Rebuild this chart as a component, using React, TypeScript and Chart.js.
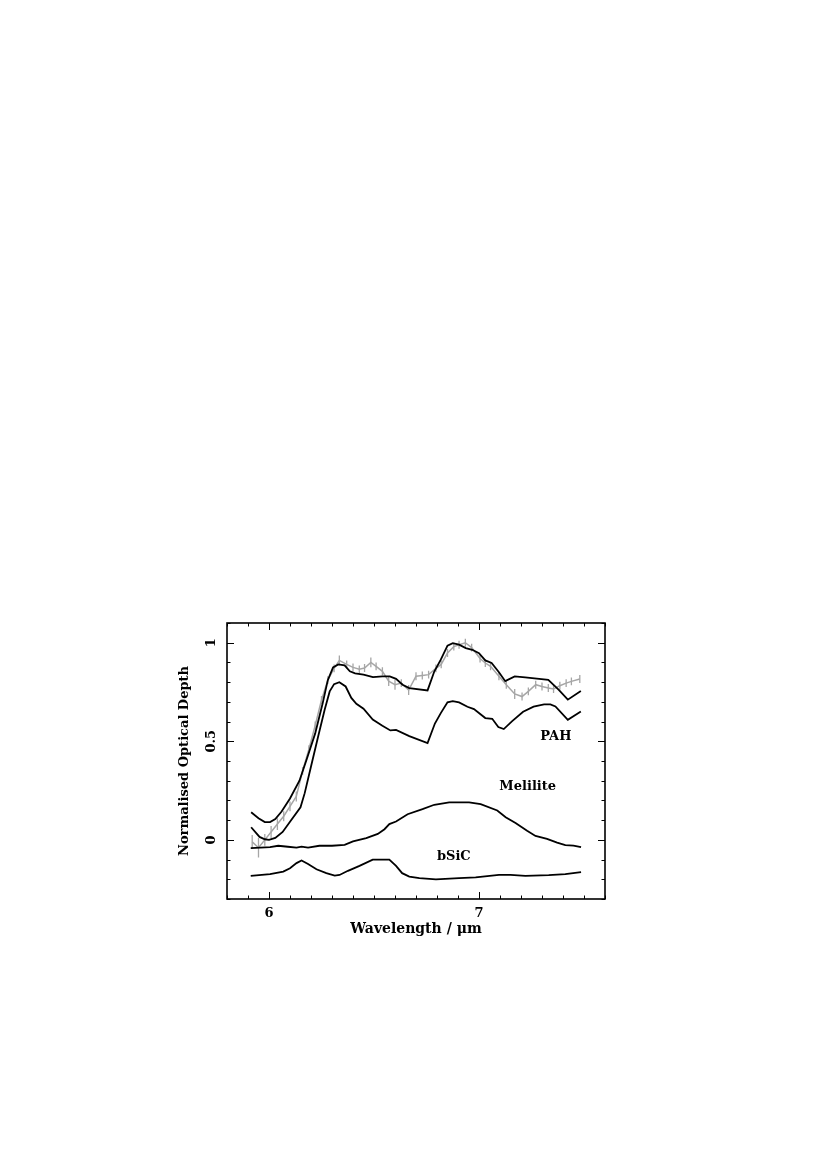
import React, { useEffect, useRef } from 'react';
import { Chart, registerables } from 'chart.js';

Chart.register(...registerables);

// Axis ranges and ticks
const X_MIN = 5.8;
const X_MAX = 7.6;
const Y_MIN = -0.3;
const Y_MAX = 1.1;
const xTickValues = [6, 7];
const yTickValues = [0, 0.5, 1];
const xMinorStep = 0.1;
const yMinorStep = 0.1;
const xMajorEvery = 10; // major every 1.0
const yMajorEvery = 5; // major every 0.5

// Observed spectrum (grey, with error bars)
const obsWavelength = [5.92, 5.95, 5.98, 6.01, 6.04, 6.07, 6.10, 6.13, 6.16, 6.19, 6.22, 6.25, 6.28, 6.31, 6.335, 6.37, 6.40, 6.43, 6.455, 6.485, 6.51, 6.54, 6.57, 6.60, 6.63, 6.665, 6.70, 6.73, 6.76, 6.795, 6.82, 6.85, 6.88, 6.905, 6.935, 6.965, 7.005, 7.03, 7.055, 7.095, 7.13, 7.17, 7.205, 7.235, 7.27, 7.30, 7.33, 7.355, 7.385, 7.415, 7.44, 7.48];
const obsDepth = [-0.01, -0.04, 0.00, 0.04, 0.08, 0.12, 0.17, 0.22, 0.35, 0.46, 0.58, 0.71, 0.81, 0.87, 0.91, 0.89, 0.875, 0.865, 0.872, 0.90, 0.88, 0.855, 0.805, 0.787, 0.795, 0.76, 0.83, 0.834, 0.838, 0.87, 0.89, 0.948, 0.98, 0.99, 1.0, 0.975, 0.92, 0.897, 0.88, 0.83, 0.787, 0.74, 0.727, 0.753, 0.787, 0.778, 0.77, 0.765, 0.782, 0.795, 0.804, 0.816];
const obsError = [0.035, 0.05, 0.03, 0.03, 0.03, 0.025, 0.025, 0.025, 0.02, 0.02, 0.02, 0.02, 0.02, 0.02, 0.025, 0.02, 0.02, 0.02, 0.02, 0.025, 0.02, 0.02, 0.025, 0.025, 0.02, 0.025, 0.02, 0.02, 0.02, 0.02, 0.02, 0.02, 0.02, 0.02, 0.02, 0.02, 0.02, 0.02, 0.02, 0.02, 0.02, 0.025, 0.02, 0.02, 0.02, 0.02, 0.02, 0.02, 0.02, 0.02, 0.02, 0.02];

// Total model fit (upper black curve)
const fitWavelength = [5.915, 5.95, 5.98, 6.005, 6.03, 6.06, 6.10, 6.145, 6.18, 6.22, 6.255, 6.28, 6.305, 6.33, 6.36, 6.385, 6.41, 6.45, 6.495, 6.54, 6.575, 6.605, 6.636, 6.668, 6.755, 6.787, 6.818, 6.85, 6.875, 6.905, 6.937, 6.968, 7.0, 7.03, 7.06, 7.095, 7.125, 7.17, 7.22, 7.33, 7.38, 7.423, 7.485];
const fitDepth = [0.14, 0.11, 0.09, 0.09, 0.105, 0.144, 0.21, 0.30, 0.41, 0.54, 0.69, 0.81, 0.875, 0.89, 0.885, 0.855, 0.845, 0.838, 0.825, 0.829, 0.829, 0.817, 0.787, 0.77, 0.758, 0.854, 0.914, 0.985, 0.998, 0.99, 0.973, 0.964, 0.947, 0.91, 0.897, 0.85, 0.805, 0.829, 0.824, 0.812, 0.761, 0.711, 0.755];

// PAH component
const pahWavelength = [5.915, 5.955, 5.98, 6.0, 6.03, 6.065, 6.10, 6.15, 6.17, 6.20, 6.234, 6.265, 6.289, 6.31, 6.335, 6.365, 6.392, 6.416, 6.45, 6.494, 6.54, 6.578, 6.605, 6.668, 6.755, 6.79, 6.818, 6.85, 6.875, 6.905, 6.945, 6.976, 7.03, 7.063, 7.092, 7.118, 7.158, 7.21, 7.26, 7.31, 7.34, 7.364, 7.423, 7.485];
const pahDepth = [0.064, 0.015, 0.003, 0.0, 0.01, 0.04, 0.092, 0.165, 0.237, 0.372, 0.524, 0.66, 0.753, 0.79, 0.80, 0.778, 0.72, 0.69, 0.665, 0.61, 0.579, 0.555, 0.558, 0.526, 0.491, 0.59, 0.643, 0.698, 0.704, 0.697, 0.675, 0.663, 0.618, 0.614, 0.572, 0.562, 0.602, 0.65, 0.676, 0.687, 0.687, 0.677, 0.609, 0.651];

// Melilite component
const melWavelength = [5.913, 6.005, 6.044, 6.09, 6.131, 6.155, 6.186, 6.24, 6.30, 6.36, 6.40, 6.463, 6.518, 6.55, 6.573, 6.605, 6.66, 6.731, 6.787, 6.858, 6.953, 7.008, 7.087, 7.127, 7.174, 7.229, 7.269, 7.324, 7.372, 7.411, 7.45, 7.486];
const melDepth = [-0.042, -0.037, -0.03, -0.035, -0.039, -0.034, -0.039, -0.03, -0.03, -0.025, -0.008, 0.009, 0.03, 0.054, 0.08, 0.093, 0.13, 0.156, 0.178, 0.19, 0.19, 0.181, 0.149, 0.115, 0.085, 0.046, 0.02, 0.005, -0.014, -0.027, -0.029, -0.037];

// bSiC component
const sicWavelength = [5.913, 6.005, 6.068, 6.10, 6.131, 6.155, 6.186, 6.226, 6.273, 6.313, 6.336, 6.376, 6.431, 6.494, 6.573, 6.605, 6.634, 6.668, 6.716, 6.795, 6.905, 6.984, 7.095, 7.15, 7.221, 7.332, 7.411, 7.486];
const sicDepth = [-0.183, -0.174, -0.161, -0.144, -0.118, -0.105, -0.122, -0.149, -0.169, -0.181, -0.178, -0.157, -0.132, -0.10, -0.10, -0.132, -0.169, -0.186, -0.194, -0.20, -0.194, -0.19, -0.178, -0.178, -0.183, -0.179, -0.174, -0.164];

// Curve labels (data coordinates)
const labelTexts = ['PAH', 'Melilite', 'bSiC'];
const labelWavelength = [7.366, 7.232, 6.88];
const labelDepth = [0.523, 0.27, -0.084];

const FONT_FAMILY = "'DejaVu Serif', 'Liberation Serif', serif";
const BLACK = '#000000';
const GREY = '#a6a6a6';

const zip = (xs: number[], ys: number[]) => xs.map((x, i) => ({ x, y: ys[i] }));

const frameTicksPlugin = {
  id: 'frameTicks',
  afterDraw(chart: any) {
    const { ctx, chartArea: a, scales } = chart;
    const xs = scales.x;
    const ys = scales.y;
    ctx.save();
    ctx.strokeStyle = BLACK;
    ctx.lineWidth = 1;
    ctx.beginPath();
    const i0 = Math.ceil(X_MIN / xMinorStep - 1e-6);
    const i1 = Math.floor(X_MAX / xMinorStep + 1e-6);
    for (let i = i0; i <= i1; i++) {
      const px = Math.round(xs.getPixelForValue(i * xMinorStep)) + 0.5;
      const len = i % xMajorEvery === 0 ? 7 : 3.5;
      ctx.moveTo(px, a.bottom);
      ctx.lineTo(px, a.bottom - len);
      ctx.moveTo(px, a.top);
      ctx.lineTo(px, a.top + len);
    }
    const j0 = Math.ceil(Y_MIN / yMinorStep - 1e-6);
    const j1 = Math.floor(Y_MAX / yMinorStep + 1e-6);
    for (let j = j0; j <= j1; j++) {
      const py = Math.round(ys.getPixelForValue(j * yMinorStep)) + 0.5;
      const len = j % yMajorEvery === 0 ? 7 : 3.5;
      ctx.moveTo(a.left, py);
      ctx.lineTo(a.left + len, py);
      ctx.moveTo(a.right, py);
      ctx.lineTo(a.right - len, py);
    }
    ctx.stroke();
    ctx.lineWidth = 1.6;
    ctx.strokeRect(a.left, a.top, a.right - a.left, a.bottom - a.top);
    ctx.restore();
  },
};

const errorBarPlugin = {
  id: 'errorBars',
  beforeDatasetsDraw(chart: any) {
    const { ctx, scales } = chart;
    const xs = scales.x;
    const ys = scales.y;
    ctx.save();
    ctx.strokeStyle = GREY;
    ctx.lineWidth = 1.3;
    ctx.beginPath();
    obsWavelength.forEach((w, i) => {
      const px = xs.getPixelForValue(w);
      ctx.moveTo(px, ys.getPixelForValue(obsDepth[i] - obsError[i]));
      ctx.lineTo(px, ys.getPixelForValue(obsDepth[i] + obsError[i]));
    });
    ctx.stroke();
    ctx.restore();
  },
};

const curveLabelPlugin = {
  id: 'curveLabels',
  afterDatasetsDraw(chart: any) {
    const { ctx, scales } = chart;
    ctx.save();
    ctx.fillStyle = BLACK;
    ctx.font = `bold 13px ${FONT_FAMILY}`;
    ctx.textAlign = 'center';
    ctx.textBaseline = 'middle';
    labelTexts.forEach((t, i) => {
      ctx.fillText(t, scales.x.getPixelForValue(labelWavelength[i]), scales.y.getPixelForValue(labelDepth[i]));
    });
    ctx.restore();
  },
};

export default function App() {
  const canvasRef = useRef<HTMLCanvasElement>(null);

  useEffect(() => {
    const canvas = canvasRef.current;
    if (!canvas) return;
    const font = { family: FONT_FAMILY, size: 13, weight: 'bold' as const };
    const xTitleFont = { family: FONT_FAMILY, size: 14, weight: 'bold' as const };
    const lineDs = (label: string, xs: number[], ys: number[], color: string, width: number) => ({
      label,
      data: zip(xs, ys),
      borderColor: color,
      backgroundColor: color,
      borderWidth: width,
      pointRadius: 0,
      tension: 0,
      fill: false,
    });
    const chart = new Chart(canvas, {
      type: 'line',
      data: {
        datasets: [
          lineDs('Total fit', fitWavelength, fitDepth, BLACK, 1.8),
          lineDs('PAH', pahWavelength, pahDepth, BLACK, 1.8),
          lineDs('Melilite', melWavelength, melDepth, BLACK, 1.8),
          lineDs('bSiC', sicWavelength, sicDepth, BLACK, 1.8),
          lineDs('Observed', obsWavelength, obsDepth, GREY, 1.5),
        ],
      },
      options: {
        responsive: false,
        animation: false,
        devicePixelRatio: 1,
        layout: { padding: { left: 157, right: 225, top: 623, bottom: 216 } },
        plugins: {
          legend: { display: false },
          tooltip: { enabled: false },
        },
        scales: {
          x: {
            type: 'linear',
            min: X_MIN,
            max: X_MAX,
            grid: { display: false, drawTicks: false },
            border: { display: false },
            afterBuildTicks: (s: any) => {
              s.ticks = xTickValues.map((v) => ({ value: v }));
            },
            afterFit: (s: any) => {
              s.height = 60;
            },
            ticks: {
              font,
              color: BLACK,
              padding: 7,
              minRotation: 0,
              maxRotation: 0,
              callback: (v: any) => String(v),
            },
            title: {
              display: true,
              text: 'Wavelength / μm',
              font: xTitleFont,
              color: BLACK,
              padding: { top: 0, bottom: 21 },
            },
          },
          y: {
            type: 'linear',
            min: Y_MIN,
            max: Y_MAX,
            grid: { display: false, drawTicks: false },
            border: { display: false },
            afterBuildTicks: (s: any) => {
              s.ticks = yTickValues.map((v) => ({ value: v }));
            },
            afterFit: (s: any) => {
              s.width = 70;
            },
            ticks: {
              font,
              color: BLACK,
              padding: 4,
              minRotation: 90,
              maxRotation: 90,
              crossAlign: 'center',
              callback: (v: any) => String(v),
            },
            title: {
              display: true,
              text: 'Normalised Optical Depth',
              font,
              color: BLACK,
              padding: { top: 20, bottom: 0 },
            },
          },
        },
      },
      plugins: [errorBarPlugin, curveLabelPlugin, frameTicksPlugin],
    } as any);
    return () => chart.destroy();
  }, []);

  return (
    <div style={{ position: 'absolute', left: 0, top: 0, width: 830, height: 1175, background: '#fff' }}>
      <canvas ref={canvasRef} width={830} height={1175} style={{ display: 'block', width: 830, height: 1175 }} />
    </div>
  );
}
